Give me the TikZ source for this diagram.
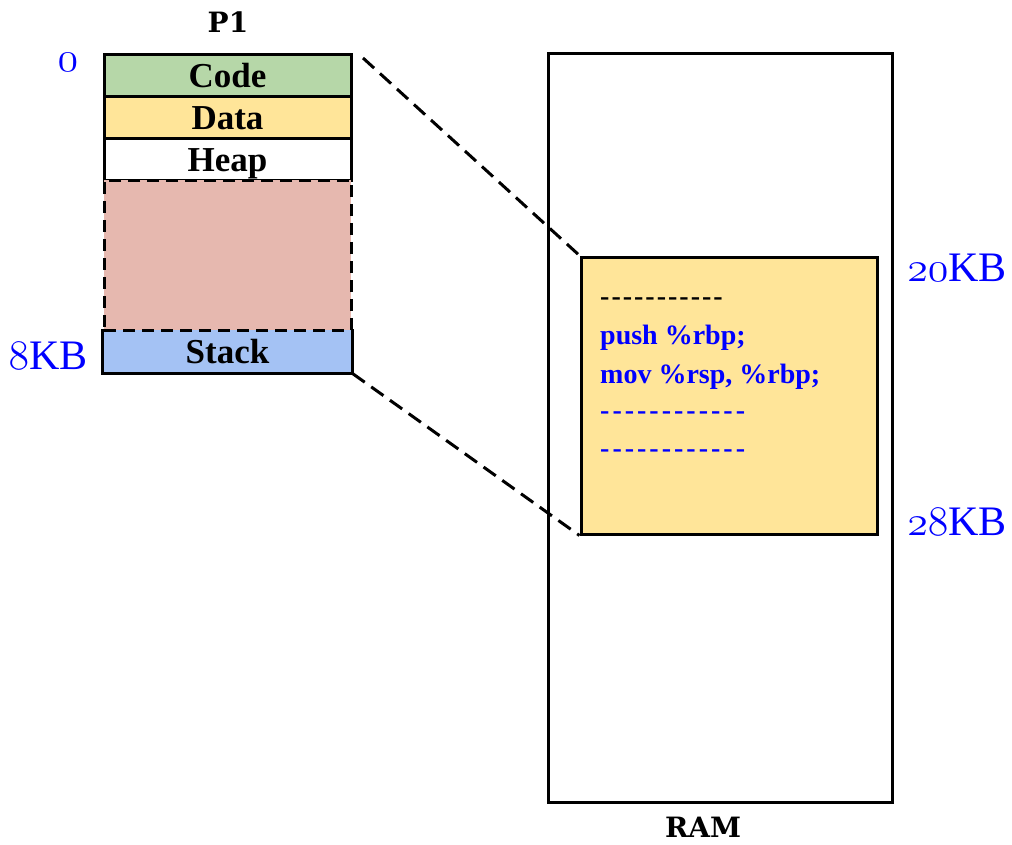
\RequirePackage{fix-cm}
\documentclass[tikz,border=0pt]{standalone}
\usepackage{fontspec}
\setmainfont{Liberation Serif}
\newfontfamily\slabfont{DejaVu Serif}
\usetikzlibrary{calc}
\definecolor{segcode}{HTML}{B6D7A8}
\definecolor{segdata}{HTML}{FFE599}
\definecolor{seggap}{HTML}{E6B8AF}
\definecolor{segstack}{HTML}{A4C2F4}
\definecolor{addrblue}{HTML}{0000FF}
\newcommand{\osnum}[1]{{\usefont{OML}{cmm}{m}{it}#1}}
% a row of #1 hyphens, #2 apart
\newcommand{\dashrow}[2]{\foreach \k in {1,...,#1}{\ifnum\k>1 \kern#2\fi-}}
\tikzset{
  seg/.style={draw=black, line width=3pt, minimum width=247pt, minimum height=42pt,
    inner sep=0pt, text height=30pt, text depth=6pt, font=\bfseries\fontsize{35}{38}\selectfont},
  gapseg/.style={draw=black, line width=3pt, dash pattern=on 12pt off 7pt, fill=seggap,
    minimum width=247pt, minimum height=150pt, inner sep=0pt},
  title/.style={font=\slabfont\bfseries\fontsize{28}{32}\selectfont},
  addr/.style={text=addrblue, font=\fontsize{42}{46}\selectfont, inner sep=0pt},
  codeline/.style={anchor=base west, inner sep=0pt, font=\bfseries\fontsize{28}{31}\selectfont},
  zoomline/.style={line width=3pt, dash pattern=on 15pt off 8pt}
}
\begin{document}
\begin{tikzpicture}[x=1pt,y=-1pt]
\useasboundingbox (0,0) rectangle (1012,844);
\fill[white] (0,0) rectangle (1012,844);

% Process P1 address space
\node[title] (p1) at (228,22) {P1};
\node[seg, fill=segcode] (code) at (227.5,75) {Code};
\node[seg, fill=segdata] (data) at (227.5,117) {Data};
\node[seg, fill=white] (heap) at (227.5,159) {Heap};
\node[seg, draw=none, fill=segstack] (stack) at (227.5,351) {Stack};
\draw[line width=3pt] (stack.north west) -- (stack.south west) -- (stack.south east) -- (stack.north east);
\node[gapseg] (gap) at (227.5,255) {};

\node[addr] (a0) at (68,62) {\osnum{0}};
\node[addr] (a8) at (48,356) {\osnum{8}KB};

% Physical memory
\node[draw=black, line width=3pt, minimum width=344pt, minimum height=749pt, inner sep=0pt] (ram) at (720,427.5) {};
\node[title] (ramlbl) at (703,827) {RAM};
\node[draw=black, line width=3pt, fill=segdata, minimum width=296pt, minimum height=277pt, inner sep=0pt] (mem) at (729,395.5) {};

\node[codeline] (l1) at (600,305) {\dashrow{11}{2.0pt}};
\node[codeline, text=addrblue] (l2) at (600,344) {push \%rbp;};
\node[codeline, text=addrblue] (l3) at (600,383) {mov \%rsp, \%rbp;};
\node[codeline, text=addrblue] (l4) at (600,419) {\dashrow{12}{3.0pt}};
\node[codeline, text=addrblue] (l5) at (600,457) {\dashrow{12}{3.0pt}};

\node[addr] (a20) at (957,268) {\osnum{20}KB};
\node[addr] (a28) at (957,522) {\osnum{28}KB};

% Mapping lines
\coordinate (ztop) at (363,58);
\draw[zoomline] (ztop) -- (mem.north west);
\draw[zoomline] (stack.south east) -- (mem.south west);
\end{tikzpicture}
\end{document}
